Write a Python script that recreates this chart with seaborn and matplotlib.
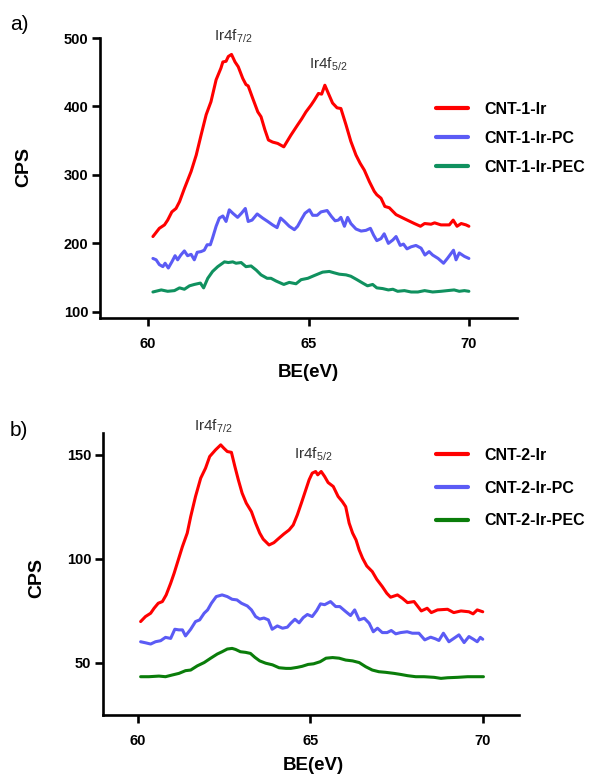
import matplotlib
matplotlib.use("Agg")
import matplotlib.pyplot as plt
import seaborn as sns

# ---------------- panel a: CNT-1 samples ----------------
a_ir_x = [60.15, 60.35, 60.51, 60.61, 60.74, 60.87, 60.98, 61.13, 61.34, 61.50,
          61.65, 61.81, 61.96, 62.12, 62.27, 62.33, 62.43, 62.50, 62.60, 62.71,
          62.81, 62.95, 63.05, 63.12, 63.26, 63.42, 63.52, 63.64, 63.75, 63.88,
          64.04, 64.23, 64.45, 64.66, 64.79, 64.92, 65.08, 65.18, 65.31, 65.41,
          65.51, 65.62, 65.75, 65.89, 66.01, 66.17, 66.32, 66.48, 66.61, 66.74,
          66.90, 67.05, 67.13, 67.26, 67.38, 67.52, 67.73, 67.99, 68.30, 68.49,
          68.62, 68.82, 68.93, 69.13, 69.39, 69.51, 69.63, 69.76, 69.91, 70.00]
a_ir_y = [210, 222, 227, 234, 246, 251, 261, 280, 305, 329,
          358, 388, 407, 439, 456, 465, 466, 473, 476, 465,
          458, 441, 432, 430, 412, 392, 385, 366, 351, 348,
          346, 341, 358, 373, 382, 392, 402, 409, 419, 418,
          431, 419, 405, 398, 397, 373, 349, 329, 317, 307,
          290, 276, 271, 266, 254, 252, 242, 236, 229, 225,
          229, 228, 230, 227, 227, 234, 225, 229, 227, 225]

a_pc_x = [60.15, 60.25, 60.35, 60.46, 60.53, 60.63, 60.74, 60.84, 60.92, 61.02,
          61.13, 61.23, 61.34, 61.44, 61.53, 61.65, 61.75, 61.84, 61.94, 62.01,
          62.12, 62.22, 62.33, 62.43, 62.53, 62.64, 62.79, 62.91, 63.03, 63.12,
          63.24, 63.40, 63.57, 63.73, 63.88, 64.02, 64.13, 64.25, 64.40, 64.56,
          64.66, 64.79, 64.89, 65.03, 65.13, 65.27, 65.39, 65.58, 65.72, 65.83,
          65.93, 66.01, 66.12, 66.22, 66.32, 66.48, 66.64, 66.79, 66.93, 67.03,
          67.13, 67.26, 67.36, 67.49, 67.63, 67.73, 67.86, 67.96, 68.07, 68.20,
          68.35, 68.51, 68.63, 68.76, 68.87, 69.04, 69.21, 69.33, 69.52, 69.60,
          69.70, 69.86, 70.00]
a_pc_y = [178, 176, 169, 166, 171, 164, 173, 182, 176, 183,
          189, 182, 184, 176, 187, 188, 190, 198, 198, 208,
          225, 237, 240, 232, 249, 244, 238, 244, 251, 232,
          234, 243, 237, 232, 227, 223, 237, 232, 225, 220,
          225, 236, 244, 249, 241, 241, 246, 248, 239, 233,
          234, 238, 225, 238, 229, 221, 218, 219, 222, 212,
          204, 207, 214, 200, 205, 210, 197, 199, 192, 195,
          197, 193, 183, 188, 183, 178, 171, 178, 190, 176,
          186, 181, 178]

a_pec_x = [60.15, 60.41, 60.61, 60.82, 60.98, 61.13, 61.29, 61.44, 61.63, 61.73,
           61.86, 62.01, 62.17, 62.38, 62.50, 62.64, 62.74, 62.90, 63.05, 63.21,
           63.37, 63.52, 63.71, 63.83, 63.99, 64.23, 64.40, 64.61, 64.77, 64.98,
           65.18, 65.44, 65.65, 65.80, 65.96, 66.17, 66.32, 66.51, 66.69, 66.84,
           67.00, 67.13, 67.31, 67.49, 67.63, 67.78, 67.99, 68.20, 68.41, 68.62,
           68.87, 69.13, 69.33, 69.54, 69.70, 69.86, 70.00]
a_pec_y = [129, 132, 130, 131, 135, 133, 138, 140, 142, 135,
           149, 159, 166, 173, 172, 173, 171, 172, 166, 167,
           161, 154, 149, 149, 145, 140, 143, 141, 147, 149,
           153, 158, 159, 157, 155, 154, 152, 147, 142, 138,
           140, 135, 134, 132, 133, 130, 131, 129, 129, 131,
           129, 130, 131, 132, 130, 131, 130]

# ---------------- panel b: CNT-2 samples ----------------
b_ir_x = [60.09, 60.23, 60.38, 60.48, 60.60, 60.72, 60.83, 60.96, 61.06, 61.18,
          61.30, 61.44, 61.54, 61.68, 61.83, 61.97, 62.09, 62.26, 62.41, 62.50,
          62.60, 62.72, 62.82, 62.92, 63.03, 63.15, 63.30, 63.42, 63.54, 63.64,
          63.81, 63.95, 64.10, 64.24, 64.39, 64.51, 64.63, 64.75, 64.87, 64.97,
          65.06, 65.16, 65.22, 65.32, 65.42, 65.52, 65.67, 65.81, 65.93, 66.03,
          66.13, 66.23, 66.33, 66.42, 66.52, 66.64, 66.80, 66.93, 67.09, 67.22,
          67.33, 67.53, 67.67, 67.82, 68.01, 68.22, 68.39, 68.51, 68.69, 68.98,
          69.16, 69.37, 69.60, 69.72, 69.84, 70.00]
b_ir_y = [69.9, 72.3, 73.9, 76.3, 78.7, 79.5, 82.7, 88.3, 93.1, 99.5,
          105.9, 112.4, 120.3, 130.0, 138.8, 143.6, 149.2, 152.4, 154.8, 153.2,
          151.6, 151.2, 144.4, 138.0, 131.6, 126.8, 122.7, 117.2, 112.4, 109.5,
          106.7, 107.8, 110.0, 112.0, 113.9, 116.3, 121.2, 127.0, 133.0, 138.0,
          141.2, 142.0, 140.4, 142.0, 139.6, 136.7, 134.8, 130.0, 127.6, 125.1,
          117.2, 112.4, 109.1, 104.3, 100.3, 96.6, 93.9, 90.2, 86.7, 83.5,
          81.6, 82.7, 81.1, 79.0, 79.5, 75.0, 76.3, 74.2, 75.5, 75.8,
          74.2, 75.0, 74.6, 73.6, 75.5, 74.6]

b_pc_x = [60.09, 60.23, 60.38, 60.52, 60.67, 60.81, 60.96, 61.08, 61.20, 61.30,
          61.39, 61.54, 61.68, 61.80, 61.93, 62.03, 62.14, 62.28, 62.45, 62.60,
          62.74, 62.88, 63.01, 63.18, 63.30, 63.42, 63.54, 63.66, 63.79, 63.90,
          64.05, 64.20, 64.34, 64.44, 64.56, 64.68, 64.80, 64.92, 65.06, 65.19,
          65.30, 65.42, 65.59, 65.74, 65.86, 66.03, 66.17, 66.29, 66.42, 66.57,
          66.71, 66.83, 66.95, 67.09, 67.23, 67.35, 67.48, 67.62, 67.81, 67.96,
          68.15, 68.32, 68.49, 68.63, 68.73, 68.86, 69.02, 69.17, 69.31, 69.46,
          69.60, 69.73, 69.84, 69.93, 70.00]
b_pc_y = [60.2, 59.7, 59.1, 60.2, 60.7, 62.3, 61.8, 66.2, 65.9, 65.9,
          63.0, 66.2, 69.9, 70.7, 73.9, 75.5, 78.7, 81.9, 82.7, 81.9,
          80.6, 80.3, 78.7, 77.4, 75.5, 72.3, 71.1, 71.6, 70.7, 66.2,
          67.8, 66.7, 67.2, 69.1, 71.0, 69.3, 71.8, 73.3, 72.3, 75.2,
          78.4, 78.0, 79.5, 77.1, 77.1, 74.7, 72.8, 75.5, 70.7, 71.5,
          69.1, 65.0, 66.7, 64.6, 64.6, 65.6, 64.0, 64.6, 65.0, 64.3,
          64.3, 61.1, 62.4, 61.6, 60.8, 64.3, 60.2, 61.9, 63.5, 59.8,
          62.7, 61.4, 60.2, 62.3, 61.4]

b_pec_x = [60.09, 60.33, 60.62, 60.81, 61.00, 61.20, 61.39, 61.54, 61.73, 61.93,
           62.12, 62.31, 62.45, 62.60, 62.74, 62.84, 62.98, 63.13, 63.27, 63.40,
           63.54, 63.71, 63.91, 64.10, 64.30, 64.44, 64.63, 64.77, 64.94, 65.10,
           65.29, 65.46, 65.65, 65.84, 66.03, 66.23, 66.42, 66.61, 66.80, 66.99,
           67.19, 67.43, 67.62, 67.82, 68.06, 68.30, 68.59, 68.79, 68.98, 69.27,
           69.56, 69.85, 70.02]
b_pec_y = [43.4, 43.4, 43.7, 43.4, 44.2, 45.0, 46.3, 46.6, 48.6, 50.2,
           52.3, 54.3, 55.4, 56.7, 57.0, 56.5, 55.4, 55.1, 54.6, 52.7,
           51.0, 49.9, 49.1, 47.7, 47.4, 47.4, 47.9, 48.4, 49.3, 49.6,
           50.6, 52.3, 52.6, 52.3, 51.4, 51.0, 50.2, 48.2, 46.6, 45.8,
           45.5, 45.0, 44.5, 43.9, 43.4, 43.4, 43.1, 42.6, 42.9, 43.1,
           43.4, 43.4, 43.4]

a_labels = ["CNT-1-Ir", "CNT-1-Ir-PC", "CNT-1-Ir-PEC"]
b_labels = ["CNT-2-Ir", "CNT-2-Ir-PC", "CNT-2-Ir-PEC"]
a_colors = ["#FF0000", "#5B5BF5", "#10915F"]
b_colors = ["#FF0000", "#5B5BF5", "#0A7D0A"]

a_yticks = [100, 200, 300, 400, 500]
b_yticks = [50, 100, 150]
xticks = [60, 65, 70]

sns.set_style("ticks")
plt.rcParams["font.family"] = ["Liberation Sans", "DejaVu Sans"]
plt.rcParams["text.color"] = "black"
plt.rcParams["axes.labelcolor"] = "black"
plt.rcParams["mathtext.fontset"] = "custom"
plt.rcParams["mathtext.rm"] = "Liberation Sans"
plt.rcParams["mathtext.it"] = "Liberation Sans"

fig = plt.figure(figsize=(5.92, 7.75), dpi=100)
W, H = 592.0, 775.0


def make_axes(left, top, right, bottom):
    return fig.add_axes([left / W, 1 - bottom / H, (right - left) / W, (bottom - top) / H])


ax_a = make_axes(100, 38, 517, 318)
ax_b = make_axes(103, 433, 519, 715)


def draw_panel(ax, series, labels, colors, xlim, ylim, yticks):
    for (xs, ys), lab, col in zip(series, labels, colors):
        sns.lineplot(x=xs, y=ys, ax=ax, color=col, lw=2.2, label=lab,
                     sort=False, estimator=None)
    ax.set_xlim(*xlim)
    ax.set_ylim(*ylim)
    ax.set_xticks(xticks)
    ax.set_yticks(yticks)
    for side in ("top", "right"):
        ax.spines[side].set_visible(False)
    for side in ("left", "bottom"):
        ax.spines[side].set_linewidth(1.9)
        ax.spines[side].set_color("black")
    ax.tick_params(axis="both", length=5.5, width=1.9, color="black",
                   labelsize=10.5, labelcolor="black")
    ax.tick_params(axis="x", pad=8)
    ax.tick_params(axis="y", pad=3)
    for t in ax.get_xticklabels() + ax.get_yticklabels():
        t.set_fontweight("bold")
    ax.set_xlabel("BE(eV)", fontsize=13.5, fontweight="bold")
    ax.set_ylabel("CPS", fontsize=14, fontweight="bold")


draw_panel(ax_a, [(a_ir_x, a_ir_y), (a_pc_x, a_pc_y), (a_pec_x, a_pec_y)],
           a_labels, a_colors, (58.5, 71.5), (91, 500), a_yticks)
draw_panel(ax_b, [(b_ir_x, b_ir_y), (b_pc_x, b_pc_y), (b_pec_x, b_pec_y)],
           b_labels, b_colors, (59.0, 71.05), (25, 160.5), b_yticks)

# axis-title placement in axes fractions
ax_a.xaxis.set_label_coords(0.499, -0.163)
ax_b.xaxis.set_label_coords(0.505, -0.148)
ax_a.yaxis.set_label_coords(-0.163, 0.54)
ax_b.yaxis.set_label_coords(-0.139, 0.486)

for ax, top, spacing in ((ax_a, 102, 0.87), (ax_b, 448, 1.1)):
    leg = ax.legend(loc="upper left", bbox_to_anchor=(436 / W, 1 - top / H),
                    bbox_transform=fig.transFigure, frameon=False,
                    borderaxespad=0, borderpad=0, handlelength=2.0,
                    handletextpad=1.0, labelspacing=spacing,
                    prop={"size": 11.5, "weight": "bold"})
    for line in leg.get_lines():
        line.set_linewidth(3)

peak_kw = dict(fontsize=11, color="#333333", ha="center", va="center", clip_on=False)
ax_a.text(62.65, 503, r"Ir4f$_{\mathregular{7/2}}$", **peak_kw)
ax_a.text(65.6, 461, r"Ir4f$_{\mathregular{5/2}}$", **peak_kw)
ax_b.text(62.2, 163.5, r"Ir4f$_{\mathregular{7/2}}$", **peak_kw)
ax_b.text(65.1, 150.5, r"Ir4f$_{\mathregular{5/2}}$", **peak_kw)

fig.text(10 / W, 1 - 25 / H, "a)", fontsize=15, ha="left", va="center")
fig.text(10 / W, 1 - 431 / H, "b)", fontsize=15, ha="left", va="center")

fig.savefig("out.png", dpi=100)
